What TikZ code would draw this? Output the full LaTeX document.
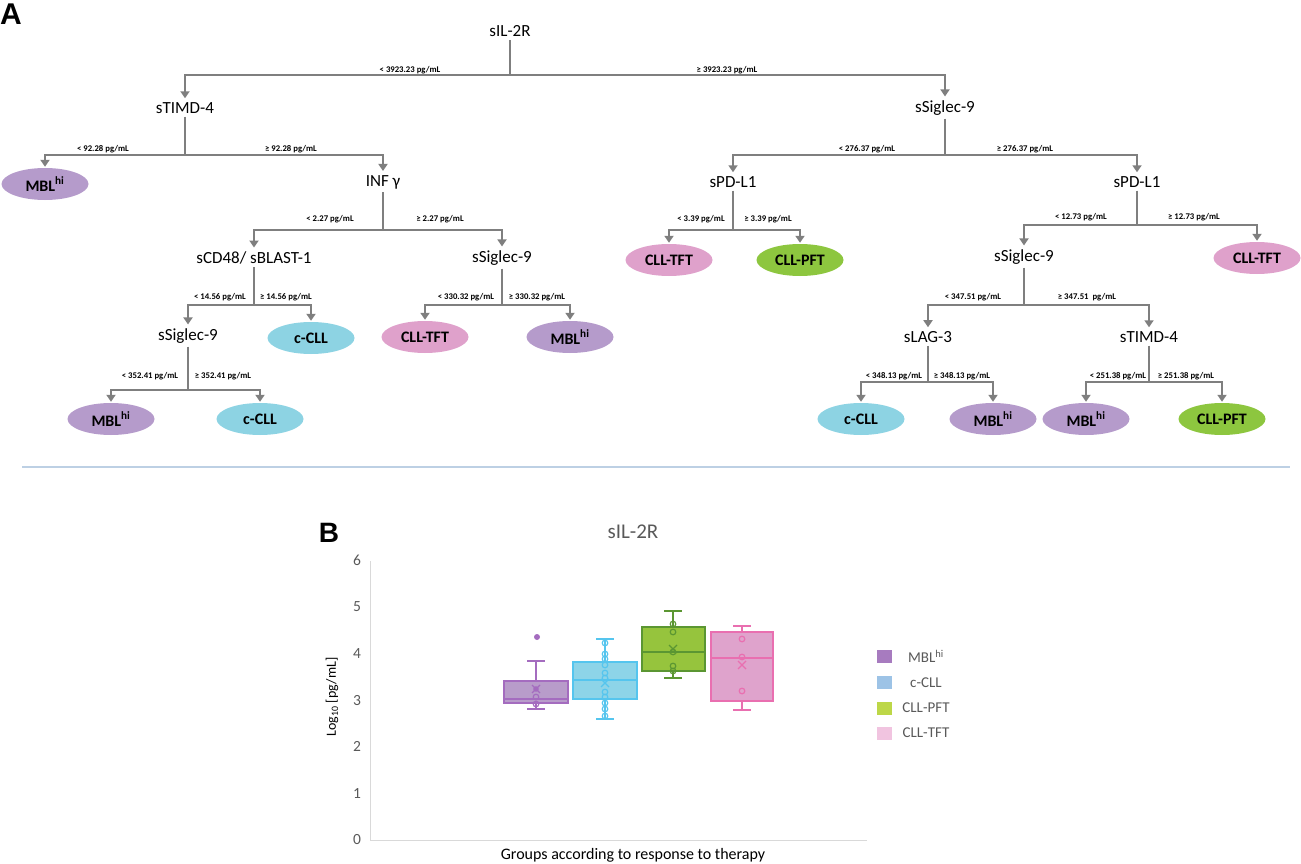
\documentclass[tikz,border=0pt]{standalone}
\usepackage{fontspec}
\setmainfont{Carlito}
\newfontfamily\panelfont{Liberation Sans}
\usepackage{tikz}
\usetikzlibrary{positioning,calc,shapes.geometric,arrows.meta}
\usepackage{xcolor}
\definecolor{treegray}{HTML}{7F7F7F}
\definecolor{mblc}{HTML}{B59BCB}
\definecolor{ccllc}{HTML}{8DD3E3}
\definecolor{tftc}{HTML}{DFA1CB}
\definecolor{pftc}{HTML}{8DC63F}
\definecolor{mbledge}{HTML}{A46CBF}
\definecolor{ccledge}{HTML}{55C5EE}
\definecolor{pftedge}{HTML}{5B9632}
\definecolor{tftedge}{HTML}{E96FB0}
\definecolor{mblbox}{HTML}{B89CCA}
\definecolor{cclbox}{HTML}{8DD4E8}
\definecolor{pftbox}{HTML}{96C43D}
\definecolor{tftbox}{HTML}{DFA3CC}
\definecolor{mblkey}{HTML}{A77BBF}
\definecolor{cclkey}{HTML}{9DC3E6}
\definecolor{pftkey}{HTML}{BDD748}
\definecolor{tftkey}{HTML}{F1C4E0}
\definecolor{seprule}{HTML}{BDD0E4}
\definecolor{axisgray}{HTML}{D9D9D9}
\definecolor{tickgray}{HTML}{595959}
\newcommand{\MBL}{MBL\textsuperscript{hi}}
\newcommand{\meanmark}[3]{\draw[#3, line width=1.3pt] (#1-4,#2-4) -- (#1+4,#2+4) (#1-4,#2+4) -- (#1+4,#2-4);}

\begin{document}
\begin{tikzpicture}[
  x=1pt, y=-1pt,
  cond/.style={inner sep=3pt, font=\fontsize{17}{19}\selectfont},
  leaf/.style={ellipse, inner sep=0pt, minimum width=87pt, minimum height=32pt, font=\bfseries\fontsize{16}{18}\selectfont},
  thr/.style={inner sep=0pt, font=\bfseries\fontsize{8.7}{10}\selectfont},
  stem/.style={draw=treegray, line width=2.7pt},
  branch/.style={stem, -{Triangle[width=9pt,length=7pt]}, shorten >=1pt},
  whisk/.style={line width=1.2pt},
  dot/.style={line width=1.2pt, fill=none}
]
\useasboundingbox (0,0) rectangle (1301,864);

% panel A: decision tree
\node[font=\panelfont\bfseries\fontsize{30}{30}\selectfont] (labA) at (11,14) {A};

\node[cond] (sil2r) at (510,31) {sIL-2R};
\node[cond] (stimdA) at (185,108) {sTIMD-4};
\node[cond] (ssigA) at (945,108) {sSiglec-9};
\node[leaf, fill=mblc] (mblA) at (45,184) {\MBL};
\node[cond] (infg) at (383,182) {INF γ};
\node[cond] (scd48) at (254,258) {sCD48/ sBLAST-1};
\node[cond] (ssigB) at (502,258) {sSiglec-9};
\node[cond] (ssigC) at (188,336) {sSiglec-9};
\node[leaf, fill=ccllc] (ccllA) at (311,338) {c-CLL};
\node[leaf, fill=tftc] (tftA) at (425,337) {CLL-TFT};
\node[leaf, fill=mblc] (mblB) at (570,337) {\MBL};
\node[leaf, fill=mblc] (mblC) at (111,419) {\MBL};
\node[leaf, fill=ccllc] (ccllB) at (260,419) {c-CLL};
\node[cond] (spdA) at (733,182) {sPD-L1};
\node[cond] (spdB) at (1137,182) {sPD-L1};
\node[leaf, fill=tftc] (tftB) at (669,260) {CLL-TFT};
\node[leaf, fill=pftc] (pftA) at (800,260) {CLL-PFT};
\node[cond] (ssigD) at (1024,257) {sSiglec-9};
\node[leaf, fill=tftc] (tftC) at (1257,258) {CLL-TFT};
\node[cond] (slag) at (928,337) {sLAG-3};
\node[cond] (stimdB) at (1149,337) {sTIMD-4};
\node[leaf, fill=ccllc] (ccllC) at (861,419) {c-CLL};
\node[leaf, fill=mblc] (mblD) at (993,419) {\MBL};
\node[leaf, fill=mblc] (mblE) at (1086,419) {\MBL};
\node[leaf, fill=pftc] (pftB) at (1222,419) {CLL-PFT};

% split points
\coordinate (j1) at (510,75);
\coordinate (j2) at (185,155);
\coordinate (j3) at (383,230);
\coordinate (j4) at (254,305);
\coordinate (j5) at (188,390);
\coordinate (j6) at (502,305);
\coordinate (j7) at (945,155);
\coordinate (j8) at (733,230);
\coordinate (j9) at (1137,225);
\coordinate (j10) at (1024,305);
\coordinate (j11) at (928,382);
\coordinate (j12) at (1149,382);

\draw[stem] (sil2r) -- (j1);
\draw[branch] (j1) -| (stimdA);
\draw[branch] (j1) -| (ssigA);
\draw[stem] (stimdA) -- (j2);
\draw[branch] (j2) -| (mblA);
\draw[branch] (j2) -| (infg);
\draw[stem] (infg) -- (j3);
\draw[branch] (j3) -| (scd48);
\draw[branch] (j3) -| (ssigB);
\draw[stem] (scd48) -- (j4);
\draw[branch] (j4) -| (ssigC);
\draw[branch] (j4) -| (ccllA);
\draw[stem] (ssigC) -- (j5);
\draw[branch] (j5) -| (mblC);
\draw[branch] (j5) -| (ccllB);
\draw[stem] (ssigB) -- (j6);
\draw[branch] (j6) -| (tftA);
\draw[branch] (j6) -| (mblB);
\draw[stem] (ssigA) -- (j7);
\draw[branch] (j7) -| (spdA);
\draw[branch] (j7) -| (spdB);
\draw[stem] (spdA) -- (j8);
\draw[branch] (j8) -| (tftB);
\draw[branch] (j8) -| (pftA);
\draw[stem] (spdB) -- (j9);
\draw[branch] (j9) -| (ssigD);
\draw[branch] (j9) -| (tftC);
\draw[stem] (ssigD) -- (j10);
\draw[branch] (j10) -| (slag);
\draw[branch] (j10) -| (stimdB);
\draw[stem] (slag) -- (j11);
\draw[branch] (j11) -| (ccllC);
\draw[branch] (j11) -| (mblD);
\draw[stem] (stimdB) -- (j12);
\draw[branch] (j12) -| (mblE);
\draw[branch] (j12) -| (pftB);

% thresholds
\node[thr] (t1l) at (410,70) {< 3923.23 pg/mL};
\node[thr] (t1r) at (727,70) {≥ 3923.23 pg/mL};
\node[thr] (t2l) at (103,149) {< 92.28 pg/mL};
\node[thr] (t2r) at (291,149) {≥ 92.28 pg/mL};
\node[thr] (t3l) at (330,219) {< 2.27 pg/mL};
\node[thr] (t3r) at (440,219) {≥ 2.27 pg/mL};
\node[thr] (t4l) at (220,297) {< 14.56 pg/mL};
\node[thr] (t4r) at (286,297) {≥ 14.56 pg/mL};
\node[thr] (t5l) at (150,376) {< 352.41 pg/mL};
\node[thr] (t5r) at (223,376) {≥ 352.41 pg/mL};
\node[thr] (t6l) at (466,297) {< 330.32 pg/mL};
\node[thr] (t6r) at (537,297) {≥ 330.32 pg/mL};
\node[thr] (t7l) at (867,149) {< 276.37 pg/mL};
\node[thr] (t7r) at (1025,149) {≥ 276.37 pg/mL};
\node[thr] (t8l) at (701,219) {< 3.39 pg/mL};
\node[thr] (t8r) at (768,219) {≥ 3.39 pg/mL};
\node[thr] (t9l) at (1081,217) {< 12.73 pg/mL};
\node[thr] (t9r) at (1194,217) {≥ 12.73 pg/mL};
\node[thr] (t10l) at (973,297) {< 347.51 pg/mL};
\node[thr] (t10r) at (1087,297) {≥ 347.51~ pg/mL};
\node[thr] (t11l) at (894,376) {< 348.13 pg/mL};
\node[thr] (t11r) at (962,376) {≥ 348.13 pg/mL};
\node[thr] (t12l) at (1118,376) {< 251.38 pg/mL};
\node[thr] (t12r) at (1186,376) {≥ 251.38 pg/mL};

\draw[seprule, line width=1.2pt] (22,467) -- (1290,467);

% panel B: box plot
\node[font=\panelfont\bfseries\fontsize{28}{28}\selectfont] (labB) at (329,533) {B};
\node[text=tickgray, font=\fontsize{21}{24}\selectfont] (title) at (633,532) {sIL-2R};
\draw[axisgray, line width=0.8pt] (370,561) -- (370,840) -- (867,840);
\foreach \v in {0,...,6}
  \node[text=tickgray, font=\fontsize{15.5}{17}\selectfont] at (357,840-46.6*\v) {\v};
\node[rotate=90, font=\fontsize{14}{16}\selectfont] (ylab) at (332,697) {Log\textsubscript{10} [pg/mL]};
\node[font=\fontsize{16}{18}\selectfont] (xlab) at (633,855) {Groups according to response to therapy};

% MBLhi
\draw[mbledge, whisk] (536,681) -- (536,661) (527,661) -- (545,661);
\draw[mbledge, whisk] (536,703) -- (536,709) (527,709) -- (545,709);
\draw[mbledge, fill=mblbox, line width=1.2pt] (504,681) rectangle (568,703);
\draw[mbledge, line width=1.2pt] (504,699) -- (568,699);
\fill[mbledge] (537,637) circle (3);
\foreach \py in {697,704} \draw[mbledge, dot] (536,\py) circle (2.8);
\fill[mbledge] (536,689) circle (2.8);
\meanmark{536}{689}{mbledge}

% c-CLL
\draw[ccledge, whisk] (605,662) -- (605,639) (596,639) -- (614,639);
\draw[ccledge, whisk] (605,699) -- (605,719) (596,719) -- (614,719);
\draw[ccledge, fill=cclbox, line width=1.2pt] (573,662) rectangle (637,699);
\draw[ccledge, line width=1.2pt] (573,680) -- (637,680);
\foreach \py in {643,654,659,665,673,678,692,697,703,709,716}
  \draw[ccledge, dot] (605,\py) circle (2.8);
\meanmark{605}{683}{ccledge}

% CLL-PFT
\draw[pftedge, whisk] (673,627) -- (673,611) (664,611) -- (682,611);
\draw[pftedge, whisk] (673,671) -- (673,678) (664,678) -- (682,678);
\draw[pftedge, fill=pftbox, line width=1.2pt] (642,627) rectangle (705,671);
\draw[pftedge, line width=1.2pt] (642,652) -- (705,652);
\foreach \py in {624,632,652,666,671}
  \draw[pftedge, dot] (673,\py) circle (2.8);
\meanmark{673}{649}{pftedge}

% CLL-TFT
\draw[tftedge, whisk] (742,632) -- (742,626) (733,626) -- (751,626);
\draw[tftedge, whisk] (742,701) -- (742,710) (733,710) -- (751,710);
\draw[tftedge, fill=tftbox, line width=1.2pt] (711,632) rectangle (773,701);
\draw[tftedge, line width=1.2pt] (711,658) -- (773,658);
\foreach \py in {639,657,691}
  \draw[tftedge, dot] (742,\py) circle (2.8);
\meanmark{742}{665}{tftedge}

% legend
\fill[mblkey] (877,650) rectangle (892,663);
\fill[cclkey] (877,676) rectangle (892,689);
\fill[pftkey] (877,702) rectangle (892,715);
\fill[tftkey] (877,727) rectangle (892,740);
\node[text=tickgray, font=\fontsize{15}{17}\selectfont] (lg1) at (926,656) {\MBL};
\node[text=tickgray, font=\fontsize{15}{17}\selectfont] (lg2) at (926,683) {c-CLL};
\node[text=tickgray, font=\fontsize{15}{17}\selectfont] (lg3) at (926,708) {CLL-PFT};
\node[text=tickgray, font=\fontsize{15}{17}\selectfont] (lg4) at (926,733) {CLL-TFT};
\end{tikzpicture}
\end{document}
